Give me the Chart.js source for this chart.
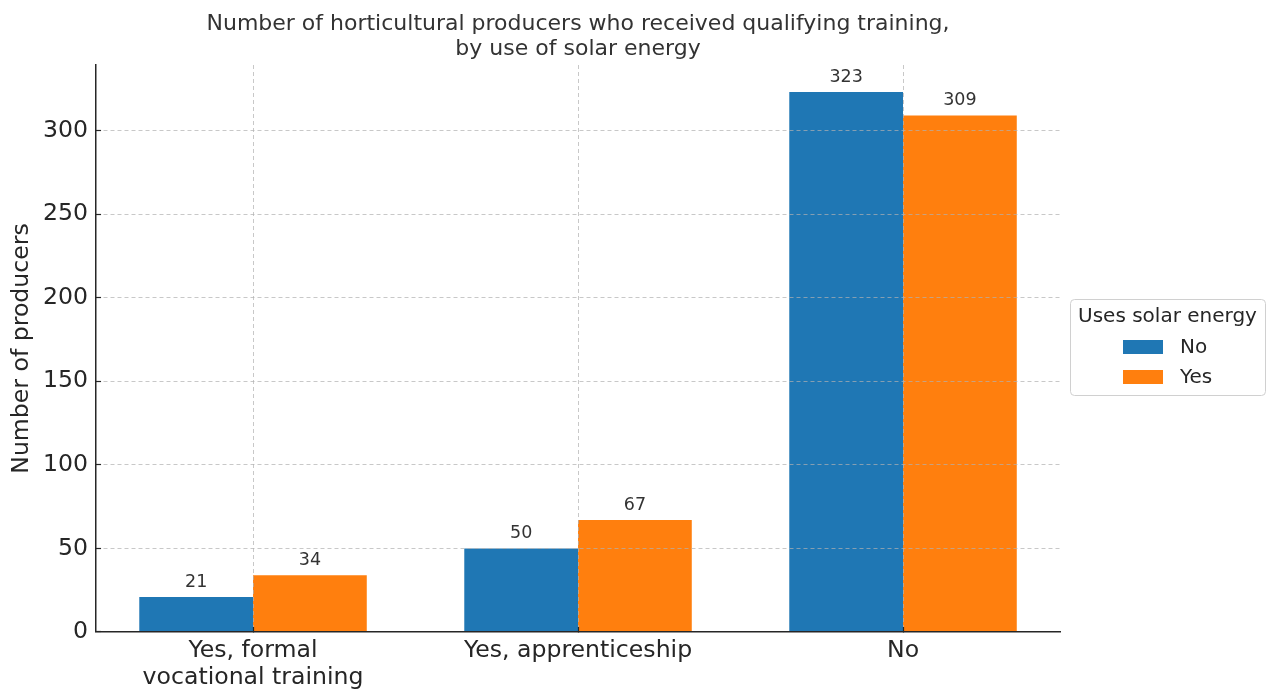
<!DOCTYPE html>
<html>
<head>
<meta charset="utf-8">
<script src="https://cdn.jsdelivr.net/npm/chart.js@4/dist/chart.umd.min.js"></script>
<style>
  html, body { margin: 0; padding: 0; background: #fff; }
  #wrap { width: 1273px; height: 691px; }
</style>
</head>
<body>
<div id="wrap"><canvas id="c"></canvas></div>
<script>
// Training categories (x positions 0, 1, 2)
const categories = [["Yes, formal", "vocational training"], "Yes, apprenticeship", "No"];
const seriesNames = ["No", "Yes"];
const noSolar = [21, 50, 323];
const yesSolar = [34, 67, 309];
const yTicks = [0, 50, 100, 150, 200, 250, 300];
const colors = ["#1f77b4", "#ff7f0e"];

const FONT = "'DejaVu Sans', sans-serif";
const TEXT = "#262626";
const GRID = "rgba(176,176,176,0.7)";

// Value labels above each bar
const barValueLabels = {
  id: "barValueLabels",
  afterDatasetsDraw(chart) {
    const ctx = chart.ctx;
    ctx.save();
    ctx.font = "17.5px " + FONT;
    ctx.fillStyle = "#333333";
    ctx.textAlign = "center";
    ctx.textBaseline = "bottom";
    chart.data.datasets.forEach((ds, i) => {
      chart.getDatasetMeta(i).data.forEach((bar, j) => {
        ctx.fillText(String(ds.data[j].y), bar.x, bar.y - 6);
      });
    });
    ctx.restore();
  }
};

// Framed legend with a title, placed right of the plot
const boxedLegend = {
  id: "boxedLegend",
  afterDraw(chart) {
    const ctx = chart.ctx;
    const area = chart.chartArea;
    const x = area.right + 10, w = 195, h = 96;
    const y = Math.round((area.top + area.bottom) / 2 - h / 2) - 1;
    ctx.save();
    ctx.beginPath();
    ctx.roundRect(x + 0.5, y + 0.5, w, h, 4);
    ctx.fillStyle = "rgba(255,255,255,0.8)";
    ctx.fill();
    ctx.strokeStyle = "#d0d0d0";
    ctx.lineWidth = 1;
    ctx.stroke();
    ctx.fillStyle = TEXT;
    ctx.textBaseline = "middle";
    ctx.textAlign = "center";
    ctx.font = "20px " + FONT;
    ctx.fillText("Uses solar energy", x + w / 2, y + 18);
    ctx.textAlign = "left";
    chart.data.datasets.forEach((ds, i) => {
      const ry = y + 48 + i * 30;
      ctx.fillStyle = ds.backgroundColor;
      ctx.fillRect(x + 53, ry - 7, 40, 14);
      ctx.fillStyle = TEXT;
      ctx.fillText(ds.label, x + 110, ry + 1);
    });
    ctx.restore();
  }
};

const datasets = [noSolar, yesSolar].map((vals, i) => ({
  label: seriesNames[i],
  data: vals.map((v, j) => ({ x: j, y: v })),
  backgroundColor: colors[i],
  borderWidth: 0,
  categoryPercentage: 0.7,
  barPercentage: 1.0
}));

new Chart(document.getElementById("c"), {
  type: "bar",
  data: { datasets },
  plugins: [barValueLabels, boxedLegend],
  options: {
    responsive: true,
    maintainAspectRatio: false,
    animation: false,
    layout: { padding: { right: 213, left: 0, top: 0, bottom: -10.8 } },
    plugins: {
      legend: { display: false },
      tooltip: { enabled: false },
      title: {
        display: true,
        fullSize: false,
        text: ["Number of horticultural producers who received qualifying training,", "by use of solar energy"],
        color: "#333333",
        font: { family: FONT, size: 22, weight: "normal", lineHeight: 1.15 },
        padding: { top: 11.5, bottom: 2.9 }
      }
    },
    scales: {
      x: {
        type: "linear",
        min: -0.483,
        max: 2.483,
        offset: false,
        afterBuildTicks(scale) {
          scale.ticks = categories.map((_, i) => ({ value: i }));
        },
        ticks: {
          callback: (v) => categories[v],
          color: TEXT,
          font: { family: FONT, size: 23.6, lineHeight: 1.14 },
          padding: 10.5,
          maxRotation: 0,
          autoSkip: false
        },
        grid: {
          offset: false,
          color: GRID,
          lineWidth: 1,
          tickColor: TEXT,
          tickLength: -5,
          tickWidth: 1.2,
          tickBorderDash: [],
          z: 1
        },
        border: { display: true, color: TEXT, width: 1.5, dash: [4, 3], z: 2 }
      },
      y: {
        min: 0,
        max: 339.15,
        afterBuildTicks(scale) {
          scale.ticks = yTicks.map(v => ({ value: v }));
        },
        ticks: {
          includeBounds: false,
          color: TEXT,
          font: { family: FONT, size: 23.6 },
          padding: 13
        },
        grid: {
          color: (c) => c.tick && c.tick.value === 0 ? "rgba(0,0,0,0)" : GRID,
          lineWidth: 1,
          tickColor: TEXT,
          tickLength: -5,
          tickWidth: 1.2,
          tickBorderDash: [],
          z: 1
        },
        border: { display: true, color: TEXT, width: 1.5, dash: [4, 3], z: 2 },
        title: {
          display: true,
          text: "Number of producers",
          color: TEXT,
          font: { family: FONT, size: 23.6, lineHeight: 1.2 },
          padding: { top: 8, bottom: -6.3 }
        }
      }
    }
  }
});
</script>
</body>
</html>
